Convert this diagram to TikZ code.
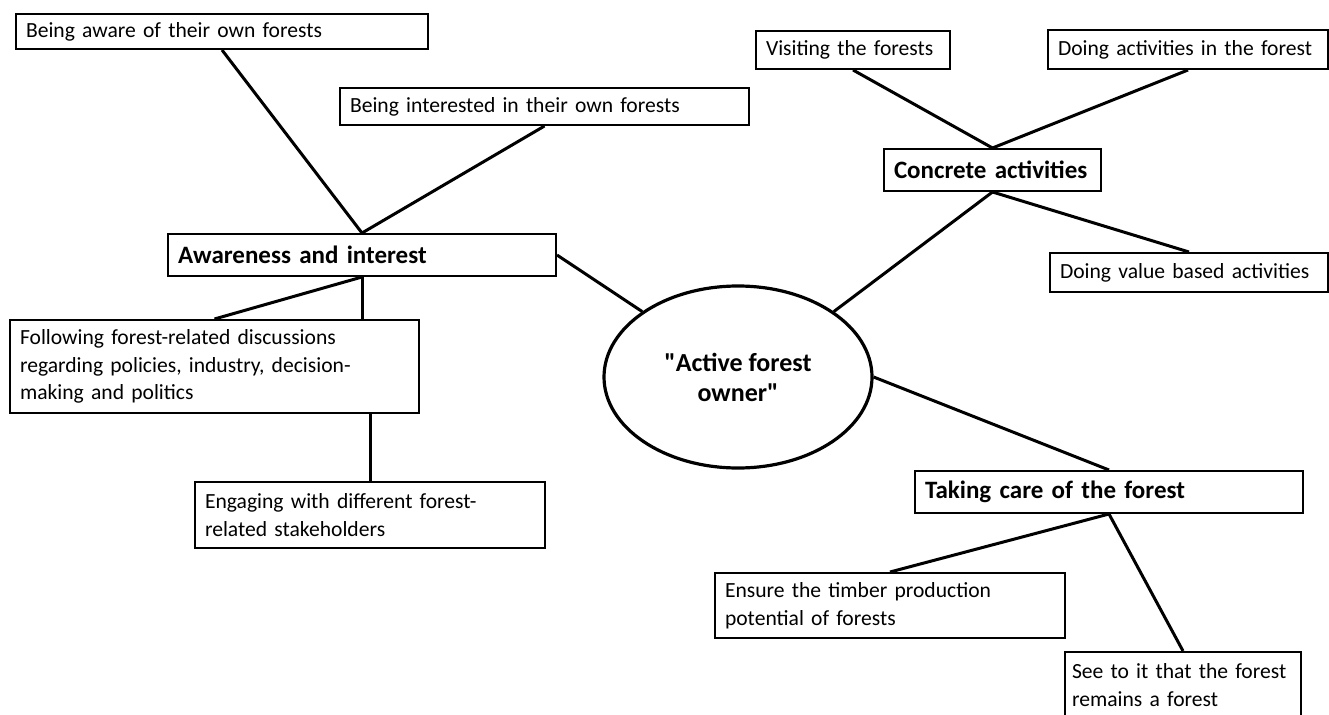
\documentclass[tikz,border=0pt]{standalone}
\usepackage{fontspec}
\setmainfont{Carlito}
\usetikzlibrary{shapes.geometric}
\begin{document}
\begin{tikzpicture}[
  x=1pt, y=-1pt,
  every node/.style={font=\fontsize{21.6}{27.5}\selectfont},
  leaf/.style={draw, line width=2pt, anchor=north west, align=left,
    inner xsep=10pt, inner ysep=0pt},
  hub/.style={leaf, font=\bfseries\fontsize{25}{29}\selectfont},
  owner/.style={draw, ellipse, line width=3.2pt, minimum width=268pt,
    minimum height=182pt, inner sep=0pt, align=center,
    font=\bfseries\fontsize{26}{30}\selectfont},
  link/.style={draw, line width=3pt}
]
\fill[white] (0,0) rectangle (1329,714);
\useasboundingbox (0,0) rectangle (1329,714);
\clip (0,0) rectangle (1329,714);

% centre
\node[owner] (owner) at (738,377) {\textquotedbl Active forest\\owner\textquotedbl};

% awareness and interest
\node[hub, text width=368pt, minimum height=42pt] (awareness) at (167,233) {Awareness and interest};
\node[leaf, text width=392pt, minimum height=35pt] (aware) at (15,13) {Being aware of their own forests};
\node[leaf, text width=389pt, minimum height=37pt] (interested) at (339,87) {Being interested in their own forests};
\node[leaf, text width=389pt, minimum height=93pt] (follow) at (9,319)
  {Following forest-related discussions\\regarding policies, industry, decision-\\making and politics};
\node[leaf, text width=330pt, minimum height=66pt] (engage) at (194,481)
  {Engaging with different forest-\\related stakeholders};

% concrete activities
\node[hub, text width=197pt, minimum height=42pt] (concrete) at (883,148) {Concrete activities};
\node[leaf, text width=174pt, minimum height=38pt] (visit) at (755,30) {Visiting the forests};
\node[leaf, text width=260pt, minimum height=39pt] (doing) at (1047,29) {Doing activities in the forest};
\node[leaf, text width=258pt, minimum height=39pt] (value) at (1049,252) {Doing value based activities};

% taking care
\node[hub, text width=368pt, minimum height=42pt] (care) at (914,470) {Taking care of the forest};
\node[leaf, text width=330pt, minimum height=65pt] (timber) at (714,572)
  {Ensure the timber production\\potential of forests};
\node[leaf, inner xsep=7pt, text width=222pt, minimum height=66pt] (remain) at (1064,651)
  {See to it that the forest\\remains a forest};

% connectors
\path[link] (aware.south) -- (awareness.north);
\path[link] (interested.south) -- (awareness.north);
\path[link] (awareness.east) -- (owner.north west);
\path[link] (awareness.south) -- (follow.north);
\path[link] (awareness.south) -- (awareness.south |- follow.north);
\path[link] (engage.north |- follow.south) -- (engage.north);
\path[link] (visit.south) -- (concrete.north);
\path[link] (doing.south) -- (concrete.north);
\path[link] (concrete.south) -- (owner.north east);
\path[link] (concrete.south) -- (value.north);
\path[link] (owner.east) -- (care.north);
\path[link] (care.south) -- (timber.north);
\path[link] (care.south) -- (remain.north);
\end{tikzpicture}
\end{document}
